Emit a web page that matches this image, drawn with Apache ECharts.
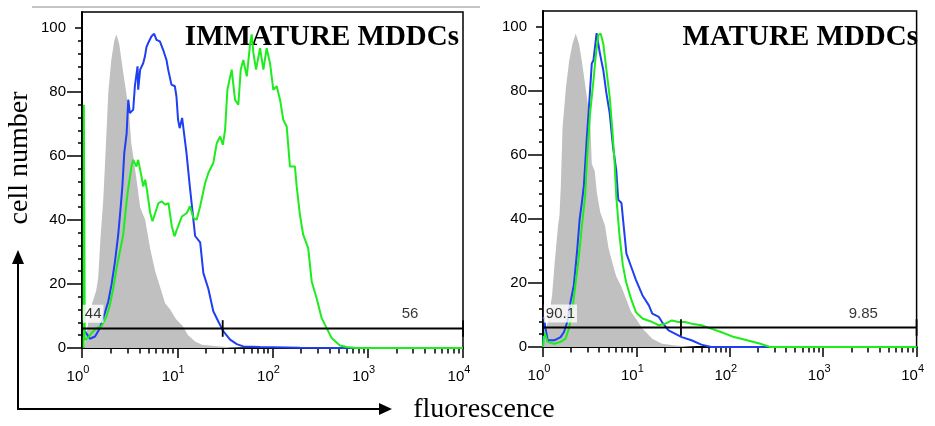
<!DOCTYPE html>
<html><head><meta charset="utf-8">
<script src="https://cdn.jsdelivr.net/npm/echarts@6/dist/echarts.min.js"></script>
<style>html,body{margin:0;padding:0;background:#fff}#c{width:935px;height:426px}</style>
</head><body><div id="c"></div>
<script>
// ---------- data (fluorescence intensity, cell number) ----------
const titles = ['IMMATURE MDDCs', 'MATURE MDDCs'];
const xTickExponents = [0, 1, 2, 3, 4];
const yTickLabels = [0, 20, 40, 60, 80, 100];

const immGrayX = [1.0, 1.06, 1.16, 1.28, 1.41, 1.48, 1.56, 1.67, 1.76, 1.89, 2.03, 2.18, 2.30, 2.46, 2.71, 2.91, 3.13, 3.29, 3.53, 3.80, 4.08, 4.61, 5.20, 5.87, 6.62, 7.46, 8.43, 9.73, 11.3, 13.0, 15.4, 18.2, 24.9, 35.8, 58];
const immGrayY = [0, 0, 8, 14, 18, 22, 34, 46, 60, 80, 90, 96, 98, 95, 86, 80, 73, 64, 58, 51, 44, 40, 31, 24, 19, 14, 12, 9, 7, 4, 2, 1, 0.6, 0.2, 0];

const immBlueX = [1.0, 1.075, 1.21, 1.37, 1.54, 1.74, 1.89, 2.04, 2.22, 2.40, 2.56, 2.66, 2.78, 2.94, 3.06, 3.18, 3.45, 3.59, 3.83, 3.89, 4.08, 4.39, 4.57, 4.75, 4.95, 5.37, 5.73, 6.05, 6.57, 7.11, 7.71, 8.03, 8.69, 9.44, 9.81, 10.2, 10.6, 11.25, 11.8, 12.5, 13.55, 14.3, 15.4, 17.4, 18.8, 21.2, 23.9, 27.0, 30.5, 35.9, 42.2, 49.4, 74, 194, 575, 10000];
const immBlueY = [7, 5.2, 2.9, 3.6, 6.2, 11, 14.6, 19.8, 27, 35.4, 44.8, 51, 61, 67, 77.6, 73.4, 74.5, 81.8, 88, 80.7, 87, 89, 91, 94, 95.3, 97.4, 98.2, 96.3, 95.8, 93.2, 90, 87, 82.3, 81.8, 78.6, 71.3, 68.7, 71.9, 71.3, 61, 50.5, 44, 35, 33, 23.4, 18.5, 11.5, 8.3, 5.2, 2.6, 1.2, 0.5, 0.3, 0.1, 0, 0];

const immGreenX = [1.04, 1.045, 1.07, 1.16, 1.26, 1.42, 1.60, 1.81, 1.965, 2.13, 2.31, 2.50, 2.71, 2.82, 2.94, 3.06, 3.31, 3.45, 3.73, 3.89, 4.21, 4.39, 4.61, 4.80, 5.20, 5.50, 5.87, 6.35, 6.90, 7.47, 8.09, 8.77, 9.35, 9.91, 11.17, 12.6, 13.6, 14.8, 16.0, 17.4, 19.6, 21.2, 23.9, 26.0, 28.2, 30.1, 31.8, 33.6, 37.3, 40.4, 43.8, 46.4, 49.4, 53.7, 58.1, 60.5, 63, 67.2, 74, 80.2, 86.9, 94.2, 102, 110.7, 120, 129.8, 141, 152.5, 172, 179.5, 194, 210, 237, 258, 290, 328, 370, 418, 510, 600, 763, 10000];
const immGreenY = [0, 76, 2.5, 3.2, 4.7, 6.2, 6.8, 9.9, 13.5, 18.7, 25, 30.2, 35.4, 40.6, 45.8, 50, 56.7, 58.8, 56.7, 58.8, 53.6, 50.5, 52.6, 49.5, 42.2, 39.6, 42.2, 45.3, 45.8, 44.8, 45.3, 38, 34.9, 37, 41.1, 42.2, 44.3, 40.6, 40.1, 44.3, 51.5, 54.7, 57.8, 64, 66.1, 63.5, 68.2, 80.7, 87, 77.6, 76, 87, 90, 84.9, 94.8, 98, 92.2, 87, 93.7, 87, 93.7, 89, 80.7, 81.8, 77.6, 71.3, 69.2, 56.7, 56.7, 50.5, 41.7, 35.4, 31.2, 20.8, 15.6, 9.4, 6.2, 3.1, 0.8, 0.3, 0, 0];

const matGrayX = [1.0, 1.04, 1.075, 1.18, 1.25, 1.33, 1.45, 1.50, 1.55, 1.62, 1.76, 1.91, 2.07, 2.24, 2.43, 2.63, 2.97, 3.21, 3.33, 3.58, 3.78, 4.11, 4.61, 5.02, 5.63, 6.09, 6.88, 7.76, 8.75, 9.88, 11.6, 14.8, 18.8, 26, 44];
const matGrayY = [0, 0, 4.7, 11.5, 16, 26, 38, 41, 50, 68.7, 81, 89.6, 94.8, 98, 94.8, 88.6, 77.5, 70, 57.3, 55, 48, 42, 38, 31, 25.5, 22, 19, 15, 11, 8.9, 5.75, 2.6, 1, 0.5, 0];

const matBlueX = [1.0, 1.017, 1.12, 1.318, 1.545, 1.678, 1.817, 1.968, 2.138, 2.313, 2.47, 2.61, 2.74, 2.95, 3.07, 3.19, 3.33, 3.47, 3.60, 3.75, 4.07, 4.42, 4.78, 5.18, 5.62, 6.09, 6.39, 6.92, 7.21, 7.82, 8.81, 9.88, 11.6, 13.6, 14.8, 17.4, 18.8, 22.1, 30.6, 38.9, 49.6, 63.1, 10000];
const matBlueY = [0, 9.4, 2.1, 2.1, 3.1, 4.7, 7.8, 14, 19.3, 29.7, 40, 45.3, 50.5, 65.6, 72.9, 80.2, 88.6, 89.6, 93.75, 98.1, 91.7, 86.5, 79.2, 73, 62.5, 55.2, 46, 45, 39.6, 29.2, 25, 21, 16.2, 13, 10.4, 9.4, 7.8, 5.2, 3.1, 2.1, 0.75, 0, 0];

const matGreenX = [1.0, 1.035, 1.12, 1.318, 1.545, 1.745, 1.893, 2.05, 2.22, 2.41, 2.61, 2.83, 2.95, 3.19, 3.47, 3.69, 3.91, 4.14, 4.42, 4.78, 5.18, 5.53, 5.85, 6.09, 6.59, 7.16, 7.76, 8.75, 9.88, 11.6, 14.8, 17.4, 20.4, 24, 28.2, 33.1, 38.9, 49.6, 63.1, 80.4, 111, 153, 212, 270, 10000];
const matGreenY = [0, 4.7, 1.6, 1, 1.6, 2.6, 5.75, 10.9, 19.3, 27.6, 38, 47.4, 58.3, 72.9, 83.3, 91.7, 97.4, 98, 94.8, 86.5, 78.1, 67.7, 57.3, 47, 34.9, 25.5, 20.3, 15.1, 10.9, 8.9, 7.8, 6.8, 7.3, 8.3, 7.8, 7.8, 7.3, 6.8, 5.75, 4.7, 3.1, 2.1, 1, 0, 0];

// gate (marker) settings, in data units
const gateLevel = [6.1, 6.1];
const gateCut = [30, 30];
const gateEnds = [1, 10000];
const gateTickHalf = 2.6;
const pctLeftText = ['44', '90.1'];
const pctRightText = ['56', '9.85'];
const pctLeftPos = [[1.02, 10.7], [1.02, 10.5]];
const pctRightPos = [[2780, 10.7], [2690, 10.5]];

// ---------- build ----------
const L = Math.log10;
const pairs = (xs, ys) => xs.map((x, i) => [L(x), ys[i]]);
const BLUE = '#1f3ff2', GREEN = '#1dec1d', GRAY = '#c0c0c0';
const SANS = 'Liberation Sans', SERIF = 'Liberation Serif';

const minorLog = [];
for (let k = 0; k < 4; k++) for (let m = 2; m <= 9; m++) minorLog.push(L(m * Math.pow(10, k)));
const minorY = [];
for (let v = 4; v < 100; v += 4) if (v % 20) minorY.push(v);

const grids = [
  {left: 82, top: 12, width: 381, height: 336},
  {left: 543, top: 11, width: 381, height: 336}
].map(g => Object.assign(g, {show: true, borderColor: '#000', borderWidth: 1.5, backgroundColor: 'transparent'}));

const xAxes = [], yAxes = [];
[0, 1].forEach(gi => {
  const xb = {type: 'value', gridIndex: gi, min: 0, max: 4, position: 'bottom', splitLine: {show: false}};
  xAxes.push(Object.assign({}, xb, {
    interval: 1,
    axisLine: {show: true, onZero: false, lineStyle: {color: '#000', width: 2}},
    axisTick: {show: true, inside: false, length: 10, lineStyle: {color: '#000', width: 1.5}},
    axisLabel: {
      show: true, margin: 16, color: '#000',
      formatter: v => '{b|10}{s|' + Math.round(v) + '}',
      rich: {
        b: {fontFamily: SANS, fontSize: 15, lineHeight: 20, verticalAlign: 'bottom', color: '#000'},
        s: {fontFamily: SANS, fontSize: 11, lineHeight: 7, verticalAlign: 'top', color: '#000', padding: [0, 8, 0, 0]}
      }
    }
  }));
  xAxes.push(Object.assign({}, xb, {
    axisLine: {show: false, onZero: false}, axisLabel: {show: false},
    axisTick: {show: true, inside: false, length: 5.5, customValues: minorLog, lineStyle: {color: '#000', width: 1.5}}
  }));
  const yb = {type: 'value', gridIndex: gi, min: 0, max: 105, position: 'left', splitLine: {show: false}};
  yAxes.push(Object.assign({}, yb, {
    axisLine: {show: true, onZero: false, lineStyle: {color: '#000', width: 2}},
    axisTick: {show: true, inside: false, length: 15, customValues: [0, 20, 40, 60, 80], lineStyle: {color: '#000', width: 1.5}},
    axisLabel: {show: true, customValues: yTickLabels, margin: 16, color: '#000', fontFamily: SANS, fontSize: 15}
  }));
  yAxes.push(Object.assign({}, yb, {
    axisLine: {show: false, onZero: false}, axisLabel: {show: false},
    axisTick: {show: true, inside: false, length: 4, customValues: minorY, lineStyle: {color: '#000', width: 1.5}}
  }));
  yAxes.push(Object.assign({}, yb, {
    axisLine: {show: false, onZero: false}, axisLabel: {show: false},
    axisTick: {show: true, inside: false, length: 7, customValues: [100], lineStyle: {color: '#000', width: 1.5}}
  }));
});

const panels = [
  {gray: pairs(immGrayX, immGrayY), blue: pairs(immBlueX, immBlueY), green: pairs(immGreenX, immGreenY)},
  {gray: pairs(matGrayX, matGrayY), blue: pairs(matBlueX, matBlueY), green: pairs(matGreenX, matGreenY)}
];

const series = [];
panels.forEach((p, i) => {
  const xi = i * 2, yi = i * 3;
  const base = {type: 'line', xAxisIndex: xi, yAxisIndex: yi, showSymbol: false, symbol: 'none', silent: true, animation: false};
  series.push(Object.assign({}, base, {data: p.gray, lineStyle: {width: 0, color: GRAY}, areaStyle: {color: GRAY, opacity: 1}, z: 1}));
  series.push(Object.assign({}, base, {data: p.blue, lineStyle: {width: 2, color: BLUE}, z: 3}));
  series.push(Object.assign({}, base, {data: p.green, lineStyle: {width: 2, color: GREEN}, z: 4}));
  const gl = gateLevel[i];
  const gateStyle = {width: 1.8, color: '#000'};
  series.push(Object.assign({}, base, {data: [[L(gateEnds[0]), gl], [L(gateEnds[1]), gl]], lineStyle: gateStyle, z: 5}));
  [gateEnds[0], gateCut[i], gateEnds[1]].forEach(xv => {
    series.push(Object.assign({}, base, {data: [[L(xv), gl - gateTickHalf], [L(xv), gl + gateTickHalf]], lineStyle: gateStyle, z: 5}));
  });
  series.push({
    type: 'scatter', xAxisIndex: xi, yAxisIndex: yi, symbolSize: 0, silent: true, z: 10,
    data: [
      {value: [L(pctLeftPos[i][0]), pctLeftPos[i][1]], label: {show: true, position: 'inside', align: 'left', formatter: pctLeftText[i], backgroundColor: '#fff', padding: [2, 2, 1, 2], fontFamily: SANS, fontSize: 15, color: '#000'}},
      {value: [L(pctRightPos[i][0]), pctRightPos[i][1]], label: {show: true, position: 'inside', align: 'center', formatter: pctRightText[i], fontFamily: SANS, fontSize: 15, color: '#000'}}
    ]
  });
});

const graphic = [
  {type: 'line', shape: {x1: 32, y1: 7, x2: 480, y2: 7}, style: {stroke: '#8c8c8c', lineWidth: 1}},
  {type: 'text', right: 935 - 459, top: 23, style: {text: titles[0], font: 'bold 29px "' + SERIF + '"', fill: '#000'}},
  {type: 'text', right: 935 - 918, top: 23, style: {text: titles[1], font: 'bold 29px "' + SERIF + '"', fill: '#000'}},
  {type: 'text', x: 20, y: 158, rotation: Math.PI / 2, style: {text: 'cell number', font: '28px "' + SERIF + '"', fill: '#000', textAlign: 'center', textVerticalAlign: 'middle'}},
  {type: 'text', x: 484, y: 410, style: {text: 'fluorescence', font: '28px "' + SERIF + '"', fill: '#000', textAlign: 'center', textVerticalAlign: 'middle'}},
  {type: 'line', shape: {x1: 18, y1: 409, x2: 18, y2: 260}, style: {stroke: '#000', lineWidth: 2}},
  {type: 'polygon', shape: {points: [[18, 250], [12, 264], [24, 264]]}, style: {fill: '#000'}},
  {type: 'line', shape: {x1: 17, y1: 409, x2: 382, y2: 409}, style: {stroke: '#000', lineWidth: 2}},
  {type: 'polygon', shape: {points: [[392, 409], [379, 403], [379, 415]]}, style: {fill: '#000'}}
];

const chart = echarts.init(document.getElementById('c'), null, {renderer: 'canvas'});
chart.setOption({animation: false, grid: grids, xAxis: xAxes, yAxis: yAxes, series: series, graphic: graphic});
</script></body></html>
